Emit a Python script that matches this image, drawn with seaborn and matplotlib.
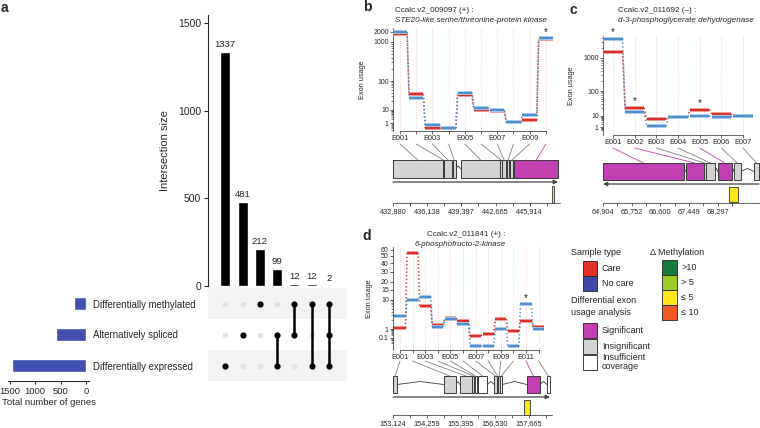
import numpy as np
import pandas as pd
import matplotlib
matplotlib.use("Agg")
import matplotlib.pyplot as plt
import matplotlib.patheffects as pe
import seaborn as sns
from matplotlib.patches import Rectangle, ConnectionPatch
from matplotlib.transforms import blended_transform_factory
from matplotlib.ticker import FixedLocator, NullFormatter

# ---- panel a: upset data ----
set_names = ["Differentially methylated", "Alternatively spliced", "Differentially expressed"]
set_totals = [238, 594, 1450]
inter_sizes = [1337, 481, 212, 99, 12, 12, 2]
inter_members = [[2], [1], [0], [1, 2], [0, 1], [0, 2], [0, 1, 2]]

# ---- panel b: Ccalc.v2_009097 ----
b_care = [1800, 35, 0.5, 0.48, 33, 10, 8, 1.1, 1.6, 1200]
b_nocare = [2000, 26, 0.76, 0.5, 40, 12, 10, 1.3, 4, 1300]
b_stars = [9]
b_status = ["ins"] * 9 + ["sig"]
b_ex_start = [432880, 437611, 437756, 438576, 439349, 443114, 443259, 443790, 444079, 444466]
b_ex_end = [437611, 437756, 438480, 438866, 443114, 443259, 443693, 443934, 444369, 448617]
b_meth = (448038, 448279)
b_gticks = [432880, 436138, 439397, 442665, 445914]

# ---- panel c: Ccalc.v2_011692 ----
c_care = [1500, 21, 5, 8.5, 18, 12, 10.2]
c_nocare = [3800, 14, 1.2, 8, 10, 8.5, 9.8]
c_stars = [0, 1, 4]
c_status = ["sig", "sig", "ins", "ins", "sig", "ins", "ins"]
c_ex_start = [64904, 67344, 67879, 67939, 68296, 68772, 69367]
c_ex_end = [67284, 67879, 67939, 68206, 68712, 68980, 69516]
c_meth = (68623, 68891)
c_gticks = [64904, 65752, 66600, 67449, 68297]

# ---- panel d: Ccalc.v2_011841 ----
d_care = [1.1, 55, 6, 1.4, 2.4, 1.9, 0.17, 0.28, 2.2, 0.6, 1.9, 1.2]
d_nocare = [2.8, 10, 11.5, 1.2, 2.2, 1.5, 0.03, 0.03, 0.9, 0.03, 7, 0.9]
d_stars = [10]
d_status = ["ins", "ins", "ins", "ins", "low", "low", "ins", "low", "ins", "low", "sig", "low"]
d_ex_start = [153124, 154819, 155361, 155785, 155853, 155972, 156514, 156599, 156650, 156701, 157599, 158277]
d_ex_end = [153260, 155226, 155768, 155836, 155922, 156277, 156599, 156650, 156701, 156785, 158040, 158378]
d_meth = (157497, 157700)
d_gticks = [153124, 154259, 155395, 156530, 157665]

RED = "#d8312b"
BLUE = "#4f8fd0"
MAG = "#c23fb2"
GRAY = "#d3d3d3"
FILL = {"sig": MAG, "ins": GRAY, "low": "white"}
HALO = {RED: "#f4b3ae", BLUE: "#b9d4ef"}

sns.set_theme(style="ticks")
plt.rcParams["font.family"] = ["Liberation Sans", "DejaVu Sans"]
plt.rcParams["axes.linewidth"] = 0.8

W, H = 760, 428
fig = plt.figure(figsize=(7.6, 4.28), dpi=100)


def px_axes(x0, y0, x1, y1):
    return fig.add_axes([x0 / W, 1 - y1 / H, (x1 - x0) / W, (y1 - y0) / H])


def ftext(x, y, s, **kw):
    fig.text(x / W, 1 - y / H, s, **kw)


def make_scale(vals, pxs):
    lv = np.log10(np.asarray(vals, float))
    p = -np.asarray(pxs, float)

    def extrap(x, xs, ys):
        y = np.interp(x, xs, ys)
        lo0 = (ys[1] - ys[0]) / (xs[1] - xs[0])
        hi0 = (ys[-1] - ys[-2]) / (xs[-1] - xs[-2])
        y = np.where(x < xs[0], ys[0] + (x - xs[0]) * lo0, y)
        y = np.where(x > xs[-1], ys[-1] + (x - xs[-1]) * hi0, y)
        return y

    def fwd(v):
        v = np.clip(np.asarray(v, float), 1e-9, None)
        return extrap(np.log10(v), lv, p)

    def inv(y):
        return 10 ** extrap(np.asarray(y, float), p, lv)

    return fwd, inv


# ================= panel a =================
ax_int = px_axes(208, 15, 347, 286)
df_int = pd.DataFrame({"combo": [f"c{i}" for i in range(len(inter_sizes))], "size": inter_sizes})
sns.barplot(data=df_int, x="combo", y="size", color="black", saturation=1, width=0.58, ax=ax_int)
ax_int.bar_label(ax_int.containers[0], fontsize=6.8, padding=2)
ax_int.set_xlim(-1, 7.04)
ax_int.set_ylim(0, 1546)
ax_int.set_yticks([0, 500, 1000, 1500])
ax_int.set_xticks([])
ax_int.set_xlabel("")
ax_int.set_ylabel("Intersection size", fontsize=8)
ax_int.yaxis.set_label_coords(-0.27, 0.5)
ax_int.tick_params(axis="y", length=3, width=0.8, labelsize=7.5, pad=2)
sns.despine(ax=ax_int, bottom=True)

ax_mat = px_axes(208, 288, 347, 381)
for r in (0, 2):
    ax_mat.axhspan(r - 0.5, r + 0.5, color="#f3f3f3", lw=0, zorder=0)
rows = []
for c, mem in enumerate(inter_members):
    for r in range(3):
        rows.append({"combo": c, "row": r, "on": r in mem})
dots = pd.DataFrame(rows)
sns.scatterplot(data=dots[~dots["on"]], x="combo", y="row", color="#e2e2e2", s=16, linewidth=0, ax=ax_mat, zorder=2)
for c, mem in enumerate(inter_members):
    if len(mem) > 1:
        ax_mat.plot([c, c], [min(mem), max(mem)], color="black", lw=1.8, zorder=3)
sns.scatterplot(data=dots[dots["on"]], x="combo", y="row", color="black", s=20, linewidth=0, ax=ax_mat, zorder=4)
ax_mat.set_xlim(-1, 7.04)
ax_mat.set_ylim(2.5, -0.5)
ax_mat.axis("off")

ax_set = px_axes(8, 288, 89, 381)
sns.barplot(x=set_totals, y=set_names, orient="h", color="#4350b0", saturation=1, width=0.45, ax=ax_set)
ax_set.set_xlim(1530, -59)
ax_set.set_ylim(2.5, -0.5)
ax_set.yaxis.tick_right()
ax_set.tick_params(axis="y", length=0, labelsize=6.9, pad=3)
ax_set.set_xticks([1500, 1000, 500, 0])
ax_set.tick_params(axis="x", length=2.5, width=0.8, labelsize=6.8, pad=1.5)
ax_set.set_xlabel("Total number of genes", fontsize=6.8, labelpad=2)
for s in ("left", "right", "top"):
    ax_set.spines[s].set_visible(False)


# ================= panels b, c, d =================
def exon_panel(care, nocare, stars, status, ex_start, ex_end, meth, gticks,
               anchor_v, anchor_px, yticks, minor, label_idx,
               plot_box, model_box, lay):
    x0, y0, x1, y1 = plot_box
    ax = px_axes(*plot_box)
    fwd, inv = make_scale(anchor_v, anchor_px)
    ax.set_yscale("function", functions=(fwd, inv))
    n = len(care)
    idx = np.arange(n)
    ax.set_xlim((x0 - lay["ex0"]) / lay["dx"], (x1 - lay["ex0"]) / lay["dx"])
    ylo, yhi = float(inv(-y1)), float(inv(-y0))
    ax.set_ylim(ylo, yhi)
    ax.vlines(idx, ylo, yhi, colors="#f2a5a5", linestyles=(0, (1, 2)), lw=0.5, zorder=0)
    hw = lay["hw"]
    for vals, col in ((care, RED), (nocare, BLUE)):
        for i in range(n - 1):
            ax.plot([i + hw, i + 1 - hw], [vals[i], vals[i + 1]], color=col,
                    ls=(0, (0.8, 1.4)), lw=1.2, zorder=2)
        seg = ax.hlines(vals, idx - hw, idx + hw, colors=col, lw=1.7, zorder=3)
        seg.set_path_effects([pe.Stroke(linewidth=2.8, foreground=HALO[col]), pe.Normal()])
    for i in stars:
        ax.annotate("*", (i, max(care[i], nocare[i])), xytext=(0, 1), textcoords="offset points",
                    ha="center", va="bottom", fontsize=7)
    ax.set_xticks(idx)
    ax.set_xticklabels([f"E{i + 1:03d}" if i in label_idx else "" for i in idx], fontsize=5.3)
    ax.yaxis.set_major_locator(FixedLocator(yticks))
    ax.set_yticklabels([f"{t:g}" for t in yticks])
    ax.yaxis.set_minor_locator(FixedLocator(minor))
    ax.yaxis.set_minor_formatter(NullFormatter())
    ax.tick_params(axis="both", which="major", length=2, width=0.5, labelsize=5, pad=1)
    ax.tick_params(axis="x", labelsize=5.3)
    ax.tick_params(axis="y", which="minor", length=1.2, width=0.4)
    ax.spines["top"].set_visible(False)
    ax.spines["right"].set_visible(False)
    ax.spines["left"].set_linewidth(0.5)
    ax.spines["bottom"].set_linewidth(0.5)
    ax.spines["bottom"].set_bounds(0, n - 1)
    ax.set_ylabel("Exon usage", fontsize=5.3)
    ax.yaxis.set_label_coords((lay["ylab_x"] - x0) / (x1 - x0), 0.5)

    mx0, my0, mx1, my1 = model_box
    am = px_axes(*model_box)
    am.set_xlim(gticks[0], lay["g_end"])
    am.set_ylim(my1, my0)
    ey0, ey1 = lay["exon_y"]
    ymid = (ey0 + ey1) / 2
    for i in range(n - 1):
        if ex_start[i + 1] - ex_end[i] > 0:
            mid = (ex_end[i] + ex_start[i + 1]) / 2
            am.plot([ex_end[i], mid, ex_start[i + 1]], [ymid, ymid - 3, ymid], color="#3a3a3a", lw=0.6)
    for s, e, st in zip(ex_start, ex_end, status):
        am.add_patch(Rectangle((s, ey0), e - s, ey1 - ey0, fc=FILL[st], ec="#3a3a3a", lw=0.7, zorder=3))
    ay = lay["arrow_y"]
    a_from, a_to = (ex_start[0], ex_end[-1]) if lay["strand"] > 0 else (ex_end[-1], ex_start[0])
    am.annotate("", xy=(a_to, ay), xytext=(a_from, ay),
                arrowprops=dict(arrowstyle="-|>", color="#444444", lw=0.9, mutation_scale=6,
                                shrinkA=0, shrinkB=0))
    my_0, my_1 = lay["meth_y"]
    am.add_patch(Rectangle((meth[0], my_0), meth[1] - meth[0], my_1 - my_0,
                           fc="#ffe619", ec="#333333", lw=0.6, zorder=3))
    for s in ("left", "right", "top"):
        am.spines[s].set_visible(False)
    am.spines["bottom"].set_position(("data", lay["axis_y"]))
    am.spines["bottom"].set_linewidth(0.5)
    am.spines["bottom"].set_bounds(gticks[0], lay["g_end"])
    am.set_yticks([])
    am.set_xticks(gticks)
    am.set_xticklabels([f"{g:,}" for g in gticks])
    step = gticks[1] - gticks[0]
    mids = [g + step / 2 for g in gticks if g + step / 2 < lay["g_end"]]
    am.xaxis.set_minor_locator(FixedLocator(mids))
    am.tick_params(axis="x", which="major", length=2.5, width=0.5, labelsize=5.3, pad=1)
    am.tick_params(axis="x", which="minor", length=2.5, width=0.5)

    tA = blended_transform_factory(ax.transData, am.transData)
    for i in range(n):
        col = MAG if status[i] == "sig" else "#808080"
        cp = ConnectionPatch(xyA=(i, lay["line_y0"]), coordsA=tA,
                             xyB=((ex_start[i] + ex_end[i]) / 2, ey0), coordsB=am.transData,
                             color=col, lw=0.6)
        fig.add_artist(cp)
    return ax, am


def minor_ticks(lo, hi):
    out = []
    for k in range(-3, 5):
        for m in range(1, 10):
            v = m * 10 ** k
            if lo <= v <= hi:
                out.append(v)
    return out


exon_panel(b_care, b_nocare, b_stars, b_status, b_ex_start, b_ex_end, b_meth, b_gticks,
           [0.1, 1, 10, 100, 1000, 2000], [140, 123, 110, 81, 42, 32],
           [1, 10, 100, 1000, 2000], minor_ticks(0.3, 2000), [0, 2, 4, 6, 8],
           (393, 28, 554, 131), (393, 143, 560, 215),
           dict(ex0=400, dx=16.2, hw=0.44, ylab_x=366, g_end=448810, exon_y=(160, 178),
                arrow_y=182, meth_y=(186, 203), axis_y=203, line_y0=144, strand=1))

exon_panel(c_care, c_nocare, c_stars, c_status, c_ex_start, c_ex_end, c_meth, c_gticks,
           [0.1, 1, 10, 100, 1000], [138, 127, 116, 91, 58],
           [1, 10, 100, 1000], minor_ticks(0.5, 5000), list(range(7)),
           (603, 36, 755, 135), (603, 147, 760, 216),
           dict(ex0=613, dx=21.67, hw=0.44, ylab_x=575, g_end=69545, exon_y=(163, 180),
                arrow_y=184, meth_y=(187, 202), axis_y=203, line_y0=148, strand=-1))

exon_panel(d_care, d_nocare, d_stars, d_status, d_ex_start, d_ex_end, d_meth, d_gticks,
           [0.01, 0.1, 1, 10, 15, 20, 30, 40, 50, 60], [354, 338, 329, 300, 290, 282, 272, 263, 256, 250],
           [0.1, 1, 10, 15, 20, 30, 40, 50, 60], minor_ticks(0.05, 60), [0, 2, 4, 6, 8, 10],
           (393, 247, 546, 350), (393, 360, 552, 427),
           dict(ex0=400, dx=12.6, hw=0.44, ylab_x=373, g_end=158446, exon_y=(376, 393),
                arrow_y=397, meth_y=(400, 415), axis_y=415, line_y0=361, strand=1))

# titles and panel letters
ftext(395, 11, "Ccalc.v2_009097 (+) :", fontsize=5.8, va="center")
ftext(395, 20, "STE20-like serine/threonine-protein kinase", fontsize=5.8, va="center", style="italic")
ftext(618, 11, "Ccalc.v2_011692 (\u2013) :", fontsize=5.8, va="center")
ftext(618, 20, "d-3-phosphoglycerate dehydrogenase", fontsize=5.8, va="center", style="italic")
ftext(466, 235, "Ccalc.v2_011841 (+) :", fontsize=5.8, va="center", ha="center")
ftext(460, 245, "6-phosphofructo-2-kinase", fontsize=5.8, va="center", ha="center", style="italic")
for letter, x, y in (("a", 4, 8), ("b", 367, 7), ("c", 573, 10), ("d", 367, 236)):
    ftext(x, y, letter, fontsize=10, fontweight="bold", va="center", ha="center")

# ================= legend =================
al = px_axes(560, 230, 760, 428)
al.set_xlim(560, 760)
al.set_ylim(428, 230)
al.axis("off")
lg = dict(fontsize=6.5, va="center")
al.text(571, 253, "Sample type", **lg)
for k, (lab, col) in enumerate((("Care", "#e0302a"), ("No care", "#3f47a6"))):
    y = 261 + k * 15
    al.add_patch(Rectangle((583, y), 14, 15, fc=col, ec="#222222", lw=0.6))
    al.text(602, y + 7.5, lab, **lg)
al.text(571, 301, "Differential exon", **lg)
al.text(571, 313, "usage analysis", **lg)
for k, (lab, col) in enumerate((("Significant", MAG), ("Insignificant", GRAY), ("Insufficient\ncoverage", "white"))):
    y = 323 + k * 16
    al.add_patch(Rectangle((583, y), 14, 15, fc=col, ec="#222222", lw=0.6))
    al.text(602, y + 7.5, lab, linespacing=1.0, **lg)
al.text(650, 253, "\u0394 Methylation", **lg)
for k, (lab, col) in enumerate(((">10", "#157a3b"), ("> 5", "#9ccb2a"), ("\u2264 5", "#ffe619"), ("\u2264 10", "#ef5a23"))):
    y = 260 + k * 15
    al.add_patch(Rectangle((662, y), 15, 15, fc=col, ec="#222222", lw=0.6))
    al.text(681, y + 7.5, lab, **lg)

fig.savefig("out.png", dpi=100)
